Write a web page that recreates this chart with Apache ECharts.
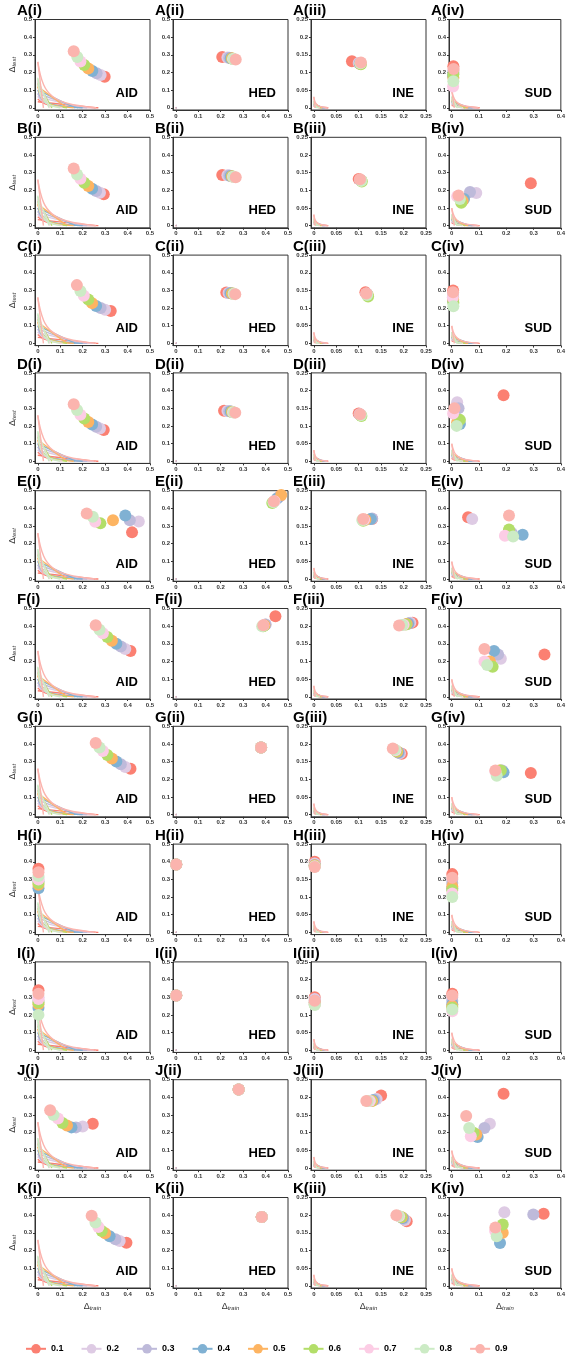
<!DOCTYPE html>
<html>
<head>
<meta charset="utf-8">
<script src="https://cdn.jsdelivr.net/npm/echarts@6/dist/echarts.min.js"></script>
<style>
  html, body { margin: 0; padding: 0; background: #fff; }
  #chart { width: 568px; height: 1359px; }
</style>
</head>
<body>
<div id="chart"></div>
<script>
// levels & colours (0.1 ... 0.9)
const levels = ["0.1", "0.2", "0.3", "0.4", "0.5", "0.6", "0.7", "0.8", "0.9"];
const colors = ["#fb8072", "#decbe4", "#bebada", "#80b1d3", "#fdb462", "#b3de69", "#fccde5", "#ccebc5", "#fbb4ae"];
const rowLetters = ["A", "B", "C", "D", "E", "F", "G", "H", "I", "J", "K"];
const colRoman = ["i", "ii", "iii", "iv"];
const methods = ["AID", "HED", "INE", "SUD"];
// axis ranges per column
const xMax = [0.5, 0.5, 0.25, 0.4];
const yMax = [0.5, 0.5, 0.25, 0.5];
const xTicks = [
  [0, 0.1, 0.2, 0.3, 0.4, 0.5],
  [0, 0.1, 0.2, 0.3, 0.4, 0.5],
  [0, 0.05, 0.1, 0.15, 0.2, 0.25],
  [0, 0.1, 0.2, 0.3, 0.4]
];
const yTicks = [
  [0, 0.1, 0.2, 0.3, 0.4, 0.5],
  [0, 0.1, 0.2, 0.3, 0.4, 0.5],
  [0, 0.05, 0.1, 0.15, 0.2, 0.25],
  [0, 0.1, 0.2, 0.3, 0.4, 0.5]
];

// background reference lines (AID units), one per level
const lineYInt = [0.034, 0.062, 0.081, 0.1, 0.12, 0.138, 0.15, 0.162, 0.26];
const lineXInt = [0.257, 0.197, 0.18, 0.167, 0.13, 0.063, 0.055, 0.05, 0.025];
const curves = [
  [[0, 0.05], [0.027, 0.025], [0.068, 0.0125], [0.135, 0.005], [0.27, 0]],
  [[0, 0.065], [0.025, 0.033], [0.063, 0.016], [0.125, 0.0065], [0.25, 0]],
  [[0, 0.08], [0.022, 0.04], [0.055, 0.02], [0.11, 0.008], [0.22, 0]],
  [[0, 0.1], [0.02, 0.05], [0.05, 0.025], [0.1, 0.01], [0.2, 0]],
  [[0, 0.12], [0.016, 0.06], [0.04, 0.03], [0.08, 0.012], [0.16, 0]],
  [[0, 0.14], [0.013, 0.07], [0.033, 0.035], [0.065, 0.014], [0.13, 0]],
  [[0, 0.15], [0.011, 0.075], [0.028, 0.038], [0.055, 0.015], [0.11, 0]],
  [[0, 0.17], [0.01, 0.085], [0.025, 0.043], [0.05, 0.017], [0.1, 0]],
  [[0, 0.26], [0.026, 0.13], [0.065, 0.065], [0.13, 0.026], [0.26, 0]]
];
const curveScale = [1, 0.015, 0.12, 0.38];

// points: each row -> [AID, HED, INE, SUD], each 9 [Δtrain, Δtest] for 0.1..0.9
const rowA = [
  [[0.298,0.176],[0.28,0.185],[0.262,0.195],[0.243,0.208],[0.225,0.222],[0.207,0.242],[0.19,0.262],[0.176,0.288],[0.16,0.32]],
  [[0.207,0.288],[0.23,0.285],[0.238,0.284],[0.245,0.281],[0.25,0.28],[0.252,0.278],[0.255,0.277],[0.258,0.276],[0.267,0.274]],
  [[0.085,0.132],[0.1,0.127],[0.102,0.126],[0.103,0.125],[0.104,0.124],[0.105,0.123],[0.104,0.127],[0.104,0.126],[0.105,0.128]],
  [[0.006,0.235],[0.006,0.21],[0.006,0.2],[0.005,0.18],[0.006,0.17],[0.006,0.19],[0.005,0.12],[0.006,0.15],[0.007,0.22]]
];
const rowB = [
  [[0.294,0.178],[0.277,0.186],[0.26,0.196],[0.242,0.209],[0.225,0.224],[0.207,0.243],[0.19,0.265],[0.175,0.29],[0.16,0.323]],
  [[0.207,0.287],[0.23,0.285],[0.238,0.284],[0.245,0.281],[0.25,0.28],[0.252,0.278],[0.255,0.277],[0.258,0.276],[0.267,0.274]],
  [[0.1,0.132],[0.103,0.13],[0.104,0.129],[0.105,0.128],[0.106,0.127],[0.107,0.125],[0.105,0.128],[0.106,0.127],[0.103,0.131]],
  [[0.29,0.24],[0.09,0.185],[0.067,0.19],[0.045,0.15],[0.04,0.14],[0.035,0.13],[0.02,0.165],[0.03,0.15],[0.025,0.17]]
];
const rowC = [
  [[0.325,0.183],[0.3,0.19],[0.28,0.2],[0.26,0.212],[0.242,0.228],[0.225,0.248],[0.205,0.27],[0.19,0.297],[0.174,0.33]],
  [[0.225,0.288],[0.235,0.285],[0.24,0.285],[0.245,0.284],[0.25,0.283],[0.255,0.282],[0.258,0.281],[0.26,0.28],[0.265,0.279]],
  [[0.115,0.145],[0.117,0.141],[0.118,0.14],[0.119,0.139],[0.12,0.137],[0.121,0.133],[0.118,0.14],[0.119,0.137],[0.117,0.141]],
  [[0.005,0.3],[0.005,0.28],[0.005,0.26],[0.005,0.24],[0.005,0.25],[0.006,0.23],[0.004,0.26],[0.006,0.21],[0.005,0.29]]
];
const rowD = [
  [[0.294,0.176],[0.277,0.185],[0.26,0.195],[0.242,0.208],[0.225,0.222],[0.207,0.242],[0.19,0.263],[0.175,0.29],[0.16,0.323]],
  [[0.215,0.286],[0.23,0.284],[0.238,0.283],[0.245,0.281],[0.25,0.28],[0.252,0.278],[0.255,0.277],[0.258,0.276],[0.265,0.275]],
  [[0.1,0.135],[0.102,0.133],[0.103,0.132],[0.104,0.131],[0.105,0.13],[0.106,0.128],[0.104,0.132],[0.105,0.13],[0.103,0.133]],
  [[0.19,0.374],[0.02,0.334],[0.025,0.3],[0.03,0.21],[0.02,0.22],[0.03,0.234],[0.005,0.27],[0.018,0.2],[0.01,0.3]]
];
const rowE = [
  [[0.42,0.264],[0.45,0.325],[0.41,0.333],[0.39,0.36],[0.335,0.333],[0.279,0.315],[0.256,0.324],[0.245,0.352],[0.218,0.371]],
  [[0.465,0.47],[0.46,0.465],[0.455,0.46],[0.45,0.455],[0.47,0.475],[0.43,0.43],[0.44,0.44],[0.435,0.435],[0.437,0.44]],
  [[0.13,0.17],[0.128,0.17],[0.13,0.171],[0.127,0.17],[0.115,0.168],[0.11,0.165],[0.112,0.168],[0.108,0.167],[0.11,0.17]],
  [[0.06,0.35],[0.075,0.34],[0.22,0.26],[0.26,0.25],[0.21,0.27],[0.21,0.28],[0.195,0.245],[0.225,0.24],[0.21,0.36]]
];
const rowF = [
  [[0.413,0.259],[0.39,0.27],[0.37,0.285],[0.35,0.3],[0.33,0.318],[0.31,0.338],[0.29,0.36],[0.275,0.38],[0.258,0.405]],
  [[0.444,0.456],[0.4,0.41],[0.4,0.41],[0.395,0.405],[0.395,0.405],[0.39,0.4],[0.39,0.405],[0.385,0.4],[0.39,0.405]],
  [[0.22,0.21],[0.215,0.21],[0.212,0.208],[0.21,0.207],[0.207,0.206],[0.205,0.205],[0.2,0.204],[0.197,0.203],[0.19,0.202]],
  [[0.34,0.24],[0.18,0.215],[0.17,0.24],[0.155,0.26],[0.14,0.2],[0.15,0.17],[0.12,0.2],[0.13,0.18],[0.12,0.27]]
];
const rowG = [
  [[0.413,0.259],[0.39,0.27],[0.37,0.285],[0.35,0.3],[0.33,0.318],[0.31,0.338],[0.29,0.36],[0.275,0.38],[0.258,0.405]],
  [[0.38,0.38],[0.38,0.38],[0.38,0.38],[0.38,0.38],[0.38,0.38],[0.38,0.38],[0.38,0.38],[0.38,0.38],[0.38,0.38]],
  [[0.196,0.172],[0.192,0.174],[0.19,0.175],[0.188,0.176],[0.186,0.178],[0.184,0.18],[0.182,0.182],[0.18,0.184],[0.176,0.187]],
  [[0.29,0.235],[0.18,0.25],[0.185,0.25],[0.19,0.24],[0.175,0.25],[0.18,0.25],[0.16,0.245],[0.165,0.22],[0.16,0.25]]
];
const rowH = [
  [[0.003,0.36],[0.003,0.31],[0.003,0.29],[0.003,0.25],[0.003,0.27],[0.003,0.28],[0.003,0.3],[0.003,0.32],[0.003,0.34]],
  [[0.002,0.385],[0.002,0.385],[0.002,0.385],[0.002,0.385],[0.002,0.385],[0.002,0.385],[0.002,0.385],[0.002,0.385],[0.002,0.385]],
  [[0.002,0.2],[0.002,0.195],[0.002,0.19],[0.002,0.19],[0.002,0.19],[0.002,0.188],[0.002,0.187],[0.002,0.186],[0.002,0.185]],
  [[0.002,0.33],[0.002,0.3],[0.002,0.28],[0.002,0.25],[0.002,0.26],[0.002,0.24],[0.002,0.22],[0.002,0.2],[0.002,0.31]]
];
const rowI = [
  [[0.003,0.34],[0.003,0.3],[0.003,0.28],[0.003,0.24],[0.003,0.26],[0.003,0.27],[0.003,0.29],[0.003,0.2],[0.003,0.32]],
  [[0.002,0.31],[0.002,0.31],[0.002,0.31],[0.002,0.31],[0.002,0.31],[0.002,0.31],[0.002,0.31],[0.002,0.31],[0.002,0.31]],
  [[0.002,0.15],[0.002,0.145],[0.002,0.14],[0.002,0.135],[0.002,0.135],[0.002,0.13],[0.002,0.13],[0.002,0.128],[0.002,0.14]],
  [[0.002,0.32],[0.002,0.3],[0.002,0.28],[0.002,0.26],[0.002,0.25],[0.002,0.24],[0.002,0.22],[0.002,0.23],[0.002,0.31]]
];
const rowJ = [
  [[0.245,0.25],[0.2,0.235],[0.17,0.23],[0.15,0.23],[0.13,0.24],[0.11,0.255],[0.09,0.28],[0.07,0.3],[0.055,0.327]],
  [[0.28,0.445],[0.28,0.445],[0.28,0.445],[0.28,0.445],[0.28,0.445],[0.28,0.445],[0.28,0.445],[0.28,0.445],[0.28,0.445]],
  [[0.15,0.205],[0.14,0.195],[0.135,0.193],[0.132,0.192],[0.13,0.19],[0.127,0.19],[0.125,0.19],[0.12,0.19],[0.117,0.19]],
  [[0.19,0.42],[0.14,0.25],[0.12,0.226],[0.095,0.175],[0.09,0.19],[0.08,0.2],[0.07,0.18],[0.064,0.226],[0.053,0.295]]
];
const rowK = [
  [[0.395,0.244],[0.365,0.253],[0.346,0.263],[0.32,0.28],[0.3,0.297],[0.285,0.31],[0.27,0.333],[0.257,0.358],[0.24,0.396]],
  [[0.383,0.39],[0.383,0.39],[0.383,0.39],[0.383,0.39],[0.383,0.39],[0.383,0.39],[0.383,0.39],[0.383,0.39],[0.383,0.39]],
  [[0.207,0.183],[0.203,0.186],[0.2,0.19],[0.198,0.192],[0.196,0.194],[0.194,0.195],[0.19,0.197],[0.188,0.198],[0.184,0.2]],
  [[0.337,0.408],[0.193,0.417],[0.299,0.404],[0.177,0.243],[0.187,0.3],[0.187,0.347],[0.159,0.31],[0.165,0.28],[0.16,0.33]]
];
const rows = [rowA, rowB, rowC, rowD, rowE, rowF, rowG, rowH, rowI, rowJ, rowK];

// layout
const gridLeft = [35, 173, 311, 449];
const gridW = 115, gridH = 90.5, gridTop0 = 19.5, rowStep = 117.8;
const FONT = "Arial, 'Liberation Sans', sans-serif";

const chart = echarts.init(document.getElementById("chart"));
const grid = [], xAxis = [], yAxis = [], graphic = [];
const series = [];

// legend carriers
levels.forEach((lv, i) => {
  series.push({
    name: lv, type: "line", xAxisIndex: 0, yAxisIndex: 0, data: [],
    symbol: "circle", symbolSize: 11,
    itemStyle: { color: colors[i] }, lineStyle: { color: colors[i], width: 2 }
  });
});

rows.forEach((row, r) => {
  row.forEach((pts, c) => {
    const g = r * 4 + c;
    const top = gridTop0 + rowStep * r;
    const last = r === rows.length - 1;
    grid.push({ left: gridLeft[c], top: top, width: gridW, height: gridH, show: true, borderColor: "#333", borderWidth: 1, backgroundColor: "transparent" });
    xAxis.push({
      type: "value", gridIndex: g, min: -xMax[c] * 0.025, max: xMax[c],
      splitLine: { show: false },
      axisLine: { onZero: false, lineStyle: { color: "#333" } },
      axisTick: { customValues: xTicks[c], length: 2, lineStyle: { color: "#333" } },
      axisLabel: { customValues: xTicks[c], fontSize: 6, fontWeight: "bold", color: "#333", margin: 3, fontFamily: FONT },
      name: last ? "{d|Δ}{s|train}" : "", nameLocation: "middle", nameGap: 14,
      nameTextStyle: { rich: { d: { fontSize: 9, color: "#333", fontFamily: FONT }, s: { fontSize: 6, fontStyle: "italic", color: "#333", verticalAlign: "bottom", fontFamily: FONT } } }
    });
    yAxis.push({
      type: "value", gridIndex: g, min: -yMax[c] * 0.025, max: yMax[c],
      splitLine: { show: false },
      axisLine: { onZero: false, lineStyle: { color: "#333" } },
      axisTick: { customValues: yTicks[c], length: 2, lineStyle: { color: "#333" } },
      axisLabel: { customValues: yTicks[c], fontSize: 6, fontWeight: "bold", color: "#333", margin: 3, fontFamily: FONT },
      name: c === 0 ? "{d|Δ}{s|test}" : "", nameLocation: "middle", nameGap: 18, nameRotate: 90,
      nameTextStyle: { rich: { d: { fontSize: 9, color: "#333", fontFamily: FONT }, s: { fontSize: 6, fontStyle: "italic", color: "#333", verticalAlign: "bottom", fontFamily: FONT } } }
    });
    // panel label and method label
    graphic.push({
      type: "text", x: gridLeft[c] - 18, y: top - 16,
      style: { text: rowLetters[r] + "(" + colRoman[c] + ")", font: "bold 15px " + FONT, fill: "#000" }
    });
    graphic.push({
      type: "text", x: gridLeft[c] + gridW - 12, y: top + 80,
      style: { text: methods[c], font: "bold 13px " + FONT, fill: "#000", textAlign: "right", textVerticalAlign: "bottom" }
    });
    const s = curveScale[c];
    levels.forEach((lv, i) => {
      series.push({
        name: lv, type: "line", xAxisIndex: g, yAxisIndex: g, silent: true, showSymbol: false,
        data: [[0, lineYInt[i] * s], [lineXInt[i] * s, 0]],
        lineStyle: { color: colors[i], width: 1.4 }, z: 1
      });
      series.push({
        name: lv, type: "line", xAxisIndex: g, yAxisIndex: g, silent: true, showSymbol: false, smooth: 0.4,
        data: curves[i].map(p => [p[0] * s, p[1] * s]),
        lineStyle: { color: colors[i], width: 1.4 }, z: 1
      });
    });
    levels.forEach((lv, i) => {
      series.push({
        name: lv, type: "scatter", xAxisIndex: g, yAxisIndex: g, symbolSize: 12,
        data: [pts[i]], itemStyle: { color: colors[i], opacity: 1 }, z: 3
      });
    });
  });
});

chart.setOption({
  animation: false,
  backgroundColor: "#fff",
  grid, xAxis, yAxis, graphic, series,
  legend: {
    data: levels, left: 20, top: 1339, itemWidth: 20, itemHeight: 12, itemGap: 17,
    textStyle: { fontSize: 9, fontWeight: "bold", color: "#000", fontFamily: FONT }
  }
});
</script>
</body>
</html>
